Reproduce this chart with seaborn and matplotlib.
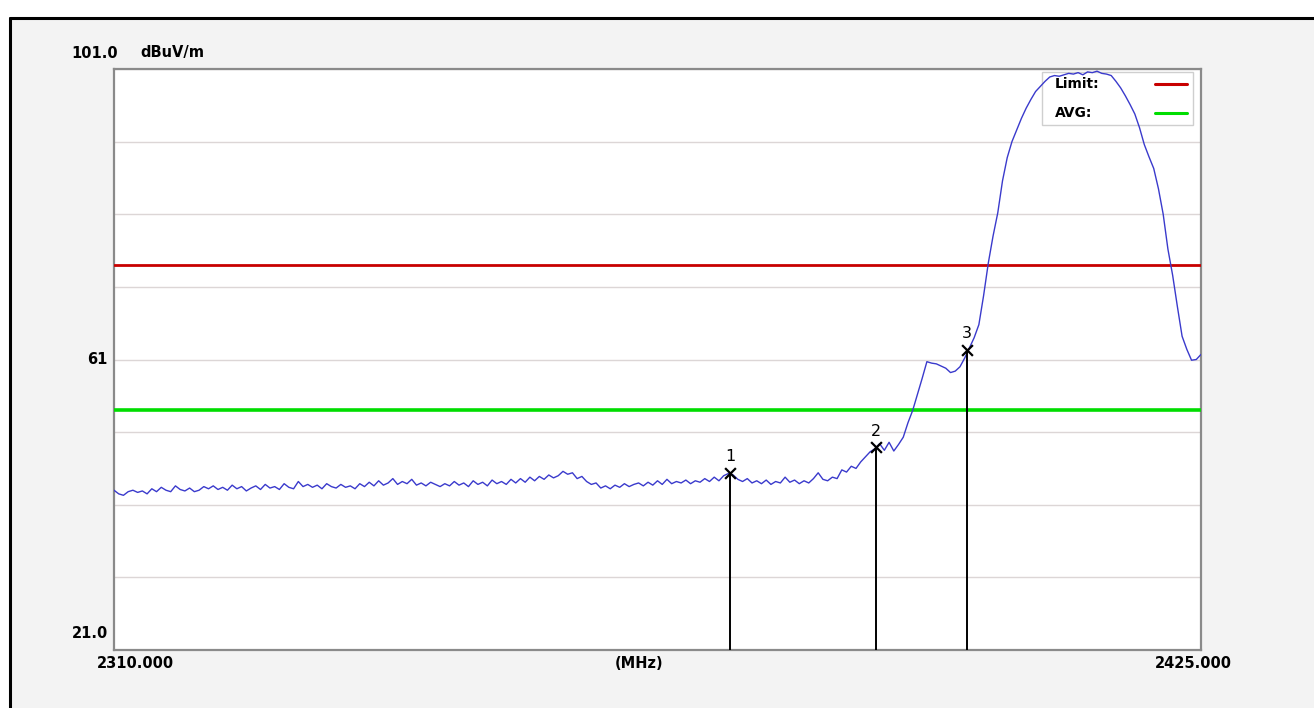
import numpy as np
import pandas as pd
import matplotlib
matplotlib.use("Agg")
import matplotlib.pyplot as plt
import seaborn as sns
from matplotlib.lines import Line2D
from matplotlib.patches import Rectangle

# ---------------- data ----------------
f_start, f_stop = 2310.0, 2425.0
y_min, y_max = 21.0, 101.0
limit_level = 74.0
avg_level = 54.0

level = [
    43.0, 42.5, 42.3, 42.8, 43.0, 42.7, 42.9, 42.5, 43.2, 42.8, 43.4, 43.0, 42.8, 43.6, 43.1, 42.9, 43.3, 42.8, 43.0, 43.5,
    43.2, 43.6, 43.1, 43.4, 43.0, 43.7, 43.2, 43.5, 42.9, 43.3, 43.6, 43.1, 43.8, 43.3, 43.5, 43.1, 43.9, 43.4, 43.2, 44.2,
    43.5, 43.8, 43.4, 43.7, 43.2, 43.9, 43.5, 43.3, 43.8, 43.4, 43.6, 43.2, 43.9, 43.5, 44.1, 43.6, 44.3, 43.7, 44.0, 44.6,
    43.8, 44.2, 43.9, 44.5, 43.7, 44.0, 43.6, 44.1, 43.8, 43.5, 43.9, 43.6, 44.2, 43.7, 44.0, 43.5, 44.3, 43.8, 44.1, 43.6,
    44.4, 43.9, 44.2, 43.8, 44.5, 44.0, 44.6, 44.1, 44.8, 44.3, 44.9, 44.5, 45.1, 44.7, 45.0, 45.6, 45.2, 45.4, 44.6, 44.9,
    44.2, 43.8, 44.0, 43.3, 43.6, 43.2, 43.7, 43.4, 43.9, 43.5, 43.8, 44.0, 43.6, 44.1, 43.7, 44.3, 43.8, 44.5, 43.9, 44.2,
    44.0, 44.4, 43.9, 44.3, 44.1, 44.6, 44.2, 44.8, 44.3, 45.0, 45.3, 45.1, 44.5, 44.2, 44.6, 44.0, 44.3, 43.9, 44.4, 43.8,
    44.2, 44.0, 44.8, 44.1, 44.4, 43.9, 44.3, 44.0, 44.6, 45.4, 44.5, 44.3, 44.8, 44.6, 45.8, 45.5, 46.3, 46.0, 46.9, 47.6,
    48.3, 48.7, 49.4, 48.5, 49.6, 48.4, 49.3, 50.3, 52.3, 54.0, 56.2, 58.4, 60.7, 60.5, 60.4, 60.1, 59.8, 59.2, 59.4, 60.0,
    61.2, 62.6, 64.0, 65.8, 69.8, 74.3, 78.0, 81.2, 85.6, 88.8, 91.0, 92.6, 94.2, 95.6, 96.8, 97.9, 98.6, 99.3, 99.9, 100.1,
    100.0, 100.2, 100.4, 100.3, 100.5, 100.2, 100.6, 100.5, 100.7, 100.4, 100.3, 100.1, 99.3, 98.4, 97.3, 96.1, 94.8, 92.9, 90.6, 88.9,
    87.3, 84.5, 81.0, 76.2, 72.6, 68.3, 64.2, 62.4, 60.9, 61.0, 61.7,
]
freq = np.linspace(f_start, f_stop, len(level))

marker_ids = ["1", "2", "3"]
marker_freq = [2375.2, 2390.6, 2400.2]
marker_level = [45.4, 48.9, 62.3]

legend_labels = ["Limit:", "AVG:"]
legend_colors = ["#c80000", "#00dd00"]

# ---------------- figure ----------------
sns.set_style("white")
plt.rcParams["font.family"] = ["DejaVu Sans"]

W, H = 1314, 708
fig = plt.figure(figsize=(W / 100, H / 100), dpi=100, facecolor="white")

# outer panel & frame lines
fig.patches.append(Rectangle((12 / W, 0), 1 - 12 / W, 1 - 20 / H, transform=fig.transFigure,
                             facecolor="#f3f3f3", edgecolor="none", zorder=-10))
fig.lines.append(Line2D([10 / W, 10 / W], [0, 1 - 18 / H], transform=fig.transFigure,
                        color="black", lw=2.2, zorder=-5))
fig.lines.append(Line2D([10 / W, 1], [1 - 18 / H, 1 - 18 / H], transform=fig.transFigure,
                        color="black", lw=2.2, zorder=-5))

x0, x1, y0, y1 = 114, 1201, 69, 650   # axes box in pixels
ax = fig.add_axes([x0 / W, 1 - y1 / H, (x1 - x0) / W, (y1 - y0) / H])
ax.set_zorder(2)
ax.set_facecolor("white")

def ax_xy(px, py):
    """pixel position -> axes fraction"""
    return (px - x0) / (x1 - x0), (y1 - py) / (y1 - y0)

df = pd.DataFrame({"freq": freq, "level": level})
sns.lineplot(data=df, x="freq", y="level", ax=ax, color="#3a3acc", lw=1.0, zorder=4)

ax.axhline(limit_level, color=legend_colors[0], lw=2.0, zorder=3)
ax.axhline(avg_level, color=legend_colors[1], lw=2.6, zorder=3)

# markers
mdf = pd.DataFrame({"freq": marker_freq, "level": marker_level, "id": marker_ids})
for fx, ly, lab in zip(mdf["freq"], mdf["level"], mdf["id"]):
    ax.vlines(fx, y_min, ly, color="black", lw=1.4, zorder=5)
    ax.text(fx, ly + 1.2, lab, ha="center", va="bottom", fontsize=11.5, color="black", zorder=6)
sns.scatterplot(data=mdf, x="freq", y="level", ax=ax, marker="x", s=60, color="black",
                linewidth=1.6, zorder=6, legend=False)

ax.set_xlim(f_start, f_stop)
ax.set_ylim(y_min, y_max)
ax.set_yticks(np.arange(y_min, y_max + 0.1, 10))
ax.set_yticklabels([])
ax.set_xticks([])
ax.tick_params(length=0)
ax.yaxis.grid(True, color="#dcd6d6", lw=1.0)
ax.xaxis.grid(False)
ax.set_xlabel("")
ax.set_ylabel("")
for s in ax.spines.values():
    s.set_color("#8a8a8a")
    s.set_linewidth(1.6)

# legend box (text left, colour sample right)
bx0, by0 = ax_xy(1042, 125)
bx1, by1 = ax_xy(1193, 72)
ax.add_patch(Rectangle((bx0, by0), bx1 - bx0, by1 - by0, transform=ax.transAxes,
                       facecolor="white", edgecolor="#cfcfcf", lw=1.0, zorder=3.5))
for lab, col, py in zip(legend_labels, legend_colors, [84, 113]):
    tx, ty = ax_xy(1055, py)
    ax.text(tx, ty, lab, transform=ax.transAxes, ha="left", va="center",
            fontsize=10, fontweight="bold", color="black", zorder=3.6)
    lx0, ly = ax_xy(1155, py)
    lx1, _ = ax_xy(1187, py)
    ax.plot([lx0, lx1], [ly, ly], transform=ax.transAxes, color=col, lw=2.2, zorder=3.6)

# axis texts
tb = dict(fontsize=10.5, fontweight="bold", color="black")
fig.text(118 / W, 1 - 53 / H, "101.0", ha="right", va="center", **tb)
fig.text(140 / W, 1 - 53 / H, "dBuV/m", ha="left", va="center", **tb)
fig.text(107 / W, 1 - 359 / H, "61", ha="right", va="center", **tb)
fig.text(108 / W, 1 - 633 / H, "21.0", ha="right", va="center", **tb)
fig.text(135 / W, 1 - 663 / H, "2310.000", ha="center", va="center", **tb)
fig.text(639 / W, 1 - 663 / H, "(MHz)", ha="center", va="center", **tb)
fig.text(1193 / W, 1 - 663 / H, "2425.000", ha="center", va="center", **tb)

fig.savefig("out.png", dpi=100, facecolor=fig.get_facecolor())
